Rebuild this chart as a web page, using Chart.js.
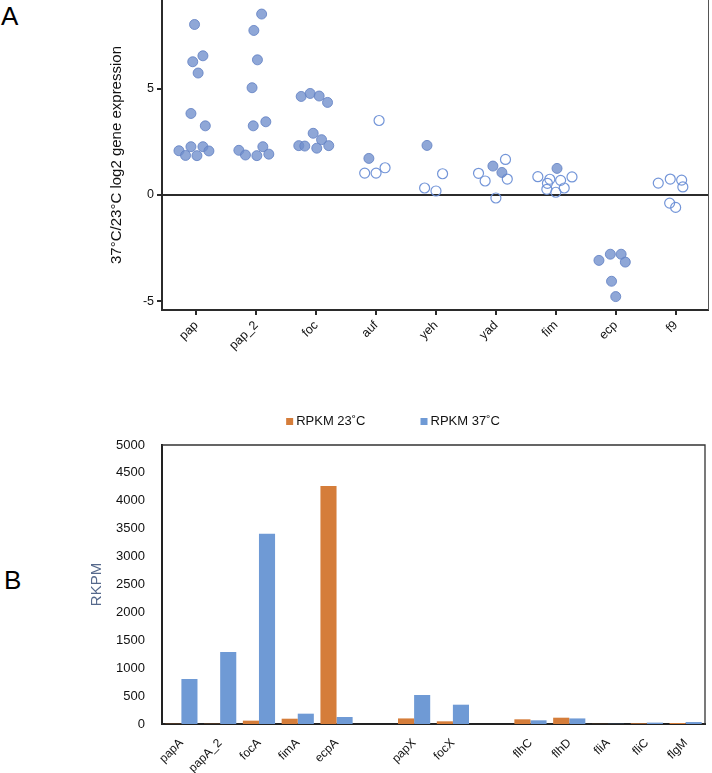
<!DOCTYPE html>
<html>
<head>
<meta charset="utf-8">
<script src="https://cdn.jsdelivr.net/npm/chart.js@4.4.1/dist/chart.umd.min.js"></script>
<style>
  body { margin: 0; background: #fff; width: 712px; height: 773px; position: relative; overflow: hidden;
         font-family: "Liberation Sans", Arial, sans-serif; }
  .panel-letter { position: absolute; font-size: 26px; line-height: 26px; color: #000; }
  #wrapA { position: absolute; left: 0; top: 0; width: 712px; height: 362px; }
  #wrapB { position: absolute; left: 0; top: 400px; width: 712px; height: 373px; }
</style>
</head>
<body>
<div class="panel-letter" style="left:1px;top:3px">A</div>
<div class="panel-letter" style="left:4px;top:567px">B</div>
<div id="wrapA"><canvas id="scatterChart" width="712" height="362"></canvas></div>
<div id="wrapB"><canvas id="rpkmChart" width="712" height="373"></canvas></div>

<script>
// ---- Panel A: log2 fold change per gene cluster ----
const geneGroups = ["pap", "pap_2", "foc", "auf", "yeh", "yad", "fim", "ecp", "f9"];

// significant (filled) points, one list per group
const sigValues = [
  [8.01, 6.26, 6.54, 5.73, 3.83, 3.25, 2.08, 1.86, 2.27, 1.85, 2.27, 2.07],
  [8.5, 7.73, 6.35, 5.04, 3.25, 3.44, 2.1, 1.88, 1.85, 2.27, 1.92],
  [4.63, 4.77, 4.65, 4.35, 2.9, 2.6, 2.32, 2.3, 2.2, 2.32],
  [1.72],
  [2.33],
  [1.36, 1.06],
  [1.25],
  [-3.07, -2.78, -2.78, -3.15, -4.05, -4.77],
  [],
];
// horizontal jitter (fraction of a category)
const sigJitter = [
  [-0.03, -0.06, 0.11, 0.03, -0.09, 0.15, -0.29, -0.18, -0.09, 0.01, 0.11, 0.21],
  [0.09, -0.04, 0.02, -0.07, -0.05, 0.16, -0.29, -0.18, 0.01, 0.11, 0.21],
  [-0.25, -0.1, 0.05, 0.19, -0.05, 0.09, -0.29, -0.19, 0.01, 0.21],
  [-0.12],
  [-0.15],
  [-0.05, 0.1],
  [0.02],
  [-0.28, -0.09, 0.09, 0.16, -0.07, 0.0],
  [],
];

// non significant (open) points
const nsValues = [
  [], [], [],
  [3.5, 1.03, 1.03, 1.28],
  [0.33, 0.19, 1.0],
  [1.02, 0.66, 1.67, 0.75, -0.14],
  [0.86, 0.74, 0.55, 0.27, 0.13, 0.69, 0.33, 0.85],
  [],
  [0.56, 0.75, 0.7, 0.38, -0.38, -0.58],
];
const nsJitter = [
  [], [], [],
  [0.05, -0.19, 0.0, 0.15],
  [-0.19, 0.0, 0.11],
  [-0.29, -0.18, 0.16, 0.19, 0.0],
  [-0.3, -0.1, -0.14, -0.15, 0.0, 0.08, 0.14, 0.27],
  [],
  [-0.29, -0.09, 0.1, 0.12, -0.1, 0.0],
];
const yTicksA = [-5, 0, 5];

// ---- Panel B: RPKM per gene ----
const rpkmGenes = ["papA", "papA_2", "focA", "fimA", "ecpA", "", "papX", "focX", "", "flhC", "flhD", "fliA", "fliC", "flgM"];
const rpkm23 = [4, 4, 60, 95, 4265, null, 100, 48, null, 84, 113, 2, 12, 18];
const rpkm37 = [806, 1290, 3410, 185, 125, null, 520, 346, null, 66, 100, 3, 25, 35];

const FONT = '"Liberation Sans", Arial, sans-serif';
const AXIS = "#2b2b2b";
const ORANGE = "#d57d3a";
const BLUE = "#6f9ad5";

function toPoints(values, jitter) {
  const pts = [];
  values.forEach((grp, i) => {
    grp.forEach((v, k) => pts.push({ x: i + jitter[i][k], y: v }));
  });
  return pts;
}

const rightBorder = {
  id: "rightBorder",
  afterDraw(chart) {
    const { ctx, chartArea } = chart;
    ctx.save();
    ctx.strokeStyle = "#555";
    ctx.lineWidth = 1;
    ctx.beginPath();
    ctx.moveTo(chartArea.right + 0.5, chartArea.top);
    ctx.lineTo(chartArea.right + 0.5, chartArea.bottom);
    ctx.stroke();
    ctx.restore();
  },
};

new Chart(document.getElementById("scatterChart"), {
  type: "scatter",
  data: {
    datasets: [
      {
        label: "significant",
        data: toPoints(sigValues, sigJitter),
        backgroundColor: "rgba(112, 142, 204, 0.78)",
        borderColor: "rgba(100, 130, 196, 0.85)",
        borderWidth: 1,
        pointRadius: 5,
      },
      {
        label: "not significant",
        data: toPoints(nsValues, nsJitter),
        backgroundColor: "rgba(255, 255, 255, 0)",
        borderColor: "rgba(108, 143, 214, 0.95)",
        borderWidth: 1.2,
        pointRadius: 5,
      },
    ],
  },
  options: {
    responsive: false,
    animation: false,
    layout: { autoPadding: false, padding: { left: 104, right: 4, top: 0, bottom: 0 } },
    plugins: { legend: { display: false }, tooltip: { enabled: false } },
    scales: {
      x: {
        type: "linear",
        min: -0.573,
        max: 8.54,
        afterBuildTicks: (s) => { s.ticks = geneGroups.map((_, i) => ({ value: i })); },
        afterFit: (s) => { s.height = 52; },
        ticks: {
          autoSkip: false,
          minRotation: 45,
          maxRotation: 45,
          padding: 3,
          color: "#111",
          font: { family: FONT, size: 12.5 },
          callback: (v) => geneGroups[v],
        },
        grid: { drawOnChartArea: false, tickLength: 5, color: AXIS, lineWidth: 2 },
        border: { color: AXIS, width: 2 },
      },
      y: {
        min: -5.4,
        max: 9.16,
        afterBuildTicks: (s) => { s.ticks = yTicksA.map((v) => ({ value: v })); },
        afterFit: (s) => { s.width = 58; s.paddingTop = 0; s.paddingBottom = 0; },
        ticks: { color: "#111", padding: 3, font: { family: FONT, size: 12.5 }, callback: (v) => String(v) },
        grid: {
          color: (c) => (c.tick && c.tick.value === 0 ? AXIS : "rgba(0,0,0,0)"),
          tickColor: AXIS,
          lineWidth: 2,
          tickLength: 5,
        },
        border: { color: AXIS, width: 2 },
        title: {
          display: true,
          text: "37°C/23°C log2 gene expression",
          color: "#111",
          font: { family: FONT, size: 15 },
        },
      },
    },
  },
  plugins: [rightBorder],
});

// frame + custom legend for panel B
const frameAndLegend = {
  id: "frameAndLegend",
  afterDraw(chart) {
    const { ctx, chartArea } = chart;
    ctx.save();
    ctx.strokeStyle = "#333";
    ctx.lineWidth = 1.3;
    ctx.beginPath();
    ctx.moveTo(chartArea.left, chartArea.top);
    ctx.lineTo(chartArea.right, chartArea.top);
    ctx.lineTo(chartArea.right, chartArea.bottom);
    ctx.stroke();

    ctx.font = "13px " + FONT;
    ctx.textBaseline = "middle";
    ctx.fillStyle = "#111";
    const items = chart.data.datasets.map((d) => ({ text: d.label, color: d.backgroundColor }));
    const gap = 55;
    const widths = items.map((it) => 10 + ctx.measureText(it.text).width);
    const total = widths.reduce((a, b) => a + b, 0) + gap * (items.length - 1);
    let x = 393 - total / 2;
    const y = 21.5;
    items.forEach((it, i) => {
      ctx.fillStyle = it.color;
      ctx.fillRect(x, y - 3.5, 7, 7);
      ctx.fillStyle = "#111";
      ctx.fillText(it.text, x + 10, y);
      x += widths[i] + gap;
    });
    ctx.restore();
  },
};

new Chart(document.getElementById("rpkmChart"), {
  type: "bar",
  data: {
    labels: rpkmGenes,
    datasets: [
      { label: "RPKM 23˚C", data: rpkm23, backgroundColor: ORANGE },
      { label: "RPKM 37˚C", data: rpkm37, backgroundColor: BLUE },
    ],
  },
  options: {
    responsive: false,
    animation: false,
    categoryPercentage: 0.83,
    barPercentage: 1.0,
    layout: { padding: { left: 84, right: 7, top: 45, bottom: 0 } },
    plugins: { legend: { display: false }, tooltip: { enabled: false } },
    scales: {
      x: {
        afterFit: (s) => { s.height = 49; },
        ticks: {
          autoSkip: false,
          minRotation: 45,
          maxRotation: 45,
          padding: 4,
          color: "#111",
          font: { family: FONT, size: 12 },
        },
        grid: { display: false },
        border: { color: "#222", width: 2 },
      },
      y: {
        min: 0,
        max: 5000,
        afterFit: (s) => { s.width = 78; },
        ticks: { stepSize: 500, padding: 9, color: "#111", font: { family: FONT, size: 13 }, callback: (v) => String(v) },
        grid: { display: false },
        border: { color: "#222", width: 2 },
        title: {
          display: true,
          text: "RKPM",
          color: "#56698c",
          font: { family: FONT, size: 15 },
        },
      },
    },
  },
  plugins: [frameAndLegend],
});
</script>
</body>
</html>
